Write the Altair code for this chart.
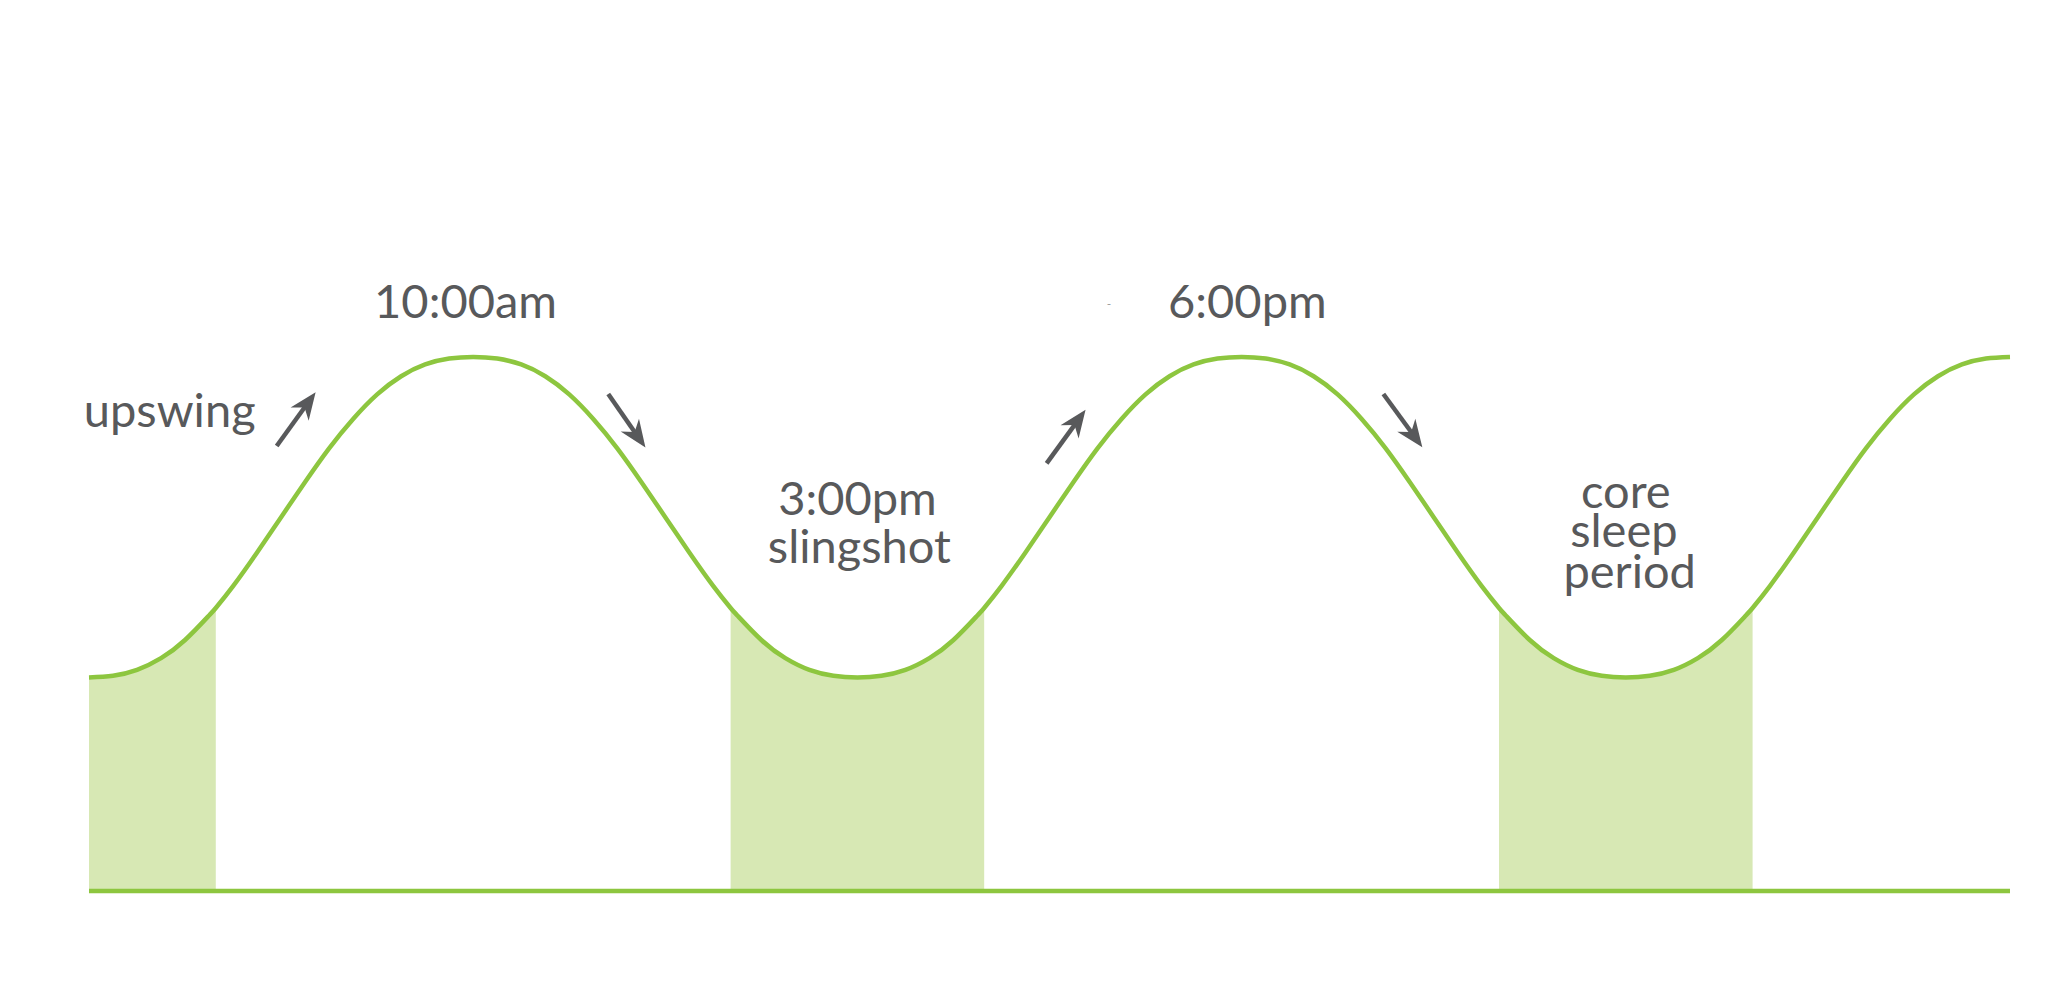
import altair as alt
import pandas as pd

# ---------------- data ----------------
# x: position along the rhythm (one full cycle = 4 units), y: alertness level (baseline 0)
curve_x = [0, 0.125, 0.25, 0.375, 0.5, 0.625, 0.75, 0.875, 1.0, 1.125, 1.25, 1.375, 1.5, 1.625, 1.75, 1.875,
           2.0, 2.125, 2.25, 2.375, 2.5, 2.625, 2.75, 2.875, 3.0, 3.125, 3.25, 3.375, 3.5, 3.625, 3.75, 3.875,
           4.0, 4.125, 4.25, 4.375, 4.5, 4.625, 4.75, 4.875, 5.0, 5.125, 5.25, 5.375, 5.5, 5.625, 5.75, 5.875,
           6.0, 6.125, 6.25, 6.375, 6.5, 6.625, 6.75, 6.875, 7.0, 7.125, 7.25, 7.375, 7.5, 7.625, 7.75, 7.875,
           8.0, 8.125, 8.25, 8.375, 8.5, 8.625, 8.75, 8.875, 9.0, 9.125, 9.25, 9.375, 9.5, 9.625, 9.75, 9.875,
           10.0]
curve_y = [40.0, 40.3, 41.4, 43.6, 47.0, 51.6, 57.1, 63.4, 70.0, 76.6, 82.9, 88.4, 93.0, 96.4, 98.6, 99.7,
           100.0, 99.7, 98.6, 96.4, 93.0, 88.4, 82.9, 76.6, 70.0, 63.4, 57.1, 51.6, 47.0, 43.6, 41.4, 40.3,
           40.0, 40.3, 41.4, 43.6, 47.0, 51.6, 57.1, 63.4, 70.0, 76.6, 82.9, 88.4, 93.0, 96.4, 98.6, 99.7,
           100.0, 99.7, 98.6, 96.4, 93.0, 88.4, 82.9, 76.6, 70.0, 63.4, 57.1, 51.6, 47.0, 43.6, 41.4, 40.3,
           40.0, 40.3, 41.4, 43.6, 47.0, 51.6, 57.1, 63.4, 70.0, 76.6, 82.9, 88.4, 93.0, 96.4, 98.6, 99.7,
           100.0]

# shaded (low) periods and the curve level at their edges
band_start = [0, 3.34, 7.34]
band_end = [0.66, 4.66, 8.66]
edge_x = [0.66, 3.34, 4.66, 7.34, 8.66]
edge_y = [53.0, 53.0, 53.0, 53.0, 53.0]

# text labels
label_text = ["10:00am", "6:00pm", "upswing", "3:00pm", "slingshot", "core", "sleep", "period"]
label_x = [1.96, 6.03, 0.42, 4.0, 4.01, 8.0, 7.99, 8.02]
label_y = [107.3, 107.3, 86.9, 70.4, 61.4, 71.7, 64.4, 56.7]

# tiny stray mark near 6:00pm
dash_x = [5.31]
dash_y = [109.9]

# arrows: tail -> head
arrow_x = [0.977, 2.703, 4.985, 6.738]
arrow_y = [83.33, 93.07, 80.09, 93.07]
head_x = [1.137, 2.855, 5.145, 6.898]
head_y = [91.3, 85.2, 88.0, 85.2]
head_angle = [36, 145, 36, 144]

# ---------------- tables ----------------
GREEN = "#8dc63f"
SHADE = "#d7e8b4"
GREY = "#58595b"

curve = pd.DataFrame({"x": curve_x + edge_x, "y": curve_y + edge_y}).sort_values("x").reset_index(drop=True)

area_rows = []
for i, (s, e) in enumerate(zip(band_start, band_end)):
    part = curve[(curve["x"] >= s - 1e-9) & (curve["x"] <= e + 1e-9)].copy()
    part["band"] = i
    area_rows.append(part)
area_df = pd.concat(area_rows, ignore_index=True)

base_df = pd.DataFrame({"x": [curve_x[0]], "x2": [curve_x[-1]], "y": [0]})
labels_df = pd.DataFrame({"t": label_text, "x": label_x, "y": label_y})
dash_df = pd.DataFrame({"t": ["-"], "x": dash_x, "y": dash_y})
arrows_df = pd.DataFrame({"x": arrow_x, "y": arrow_y, "hx": head_x, "hy": head_y, "a": head_angle})

xs = alt.Scale(domain=[0, 10], nice=False, zero=False)
ys = alt.Scale(domain=[0, 150], nice=False, zero=False)

area = alt.Chart(area_df).mark_area(color=SHADE, interpolate="natural", opacity=1).encode(
    x=alt.X("x:Q", scale=xs, axis=None),
    y=alt.Y("y:Q", scale=ys, axis=None),
    y2=alt.datum(0),
    detail="band:N",
)

line = alt.Chart(curve).mark_line(color=GREEN, strokeWidth=4.5, interpolate="natural").encode(
    x=alt.X("x:Q", scale=xs, axis=None),
    y=alt.Y("y:Q", scale=ys, axis=None),
)

base = alt.Chart(base_df).mark_rule(color=GREEN, strokeWidth=4.5).encode(
    x=alt.X("x:Q", scale=xs, axis=None),
    x2="x2:Q",
    y=alt.Y("y:Q", scale=ys, axis=None),
)

shafts = alt.Chart(arrows_df).mark_rule(color=GREY, strokeWidth=4.5).encode(
    x=alt.X("x:Q", scale=xs, axis=None),
    y=alt.Y("y:Q", scale=ys, axis=None),
    x2="hx:Q",
    y2="hy:Q",
)

heads = alt.Chart(arrows_df).mark_point(
    shape="M0,-1 L0.8,0.95 L0,0.35 L-0.8,0.95 Z",
    filled=True, color=GREY, opacity=1, size=780, strokeWidth=0,
).encode(
    x=alt.X("hx:Q", scale=xs, axis=None),
    y=alt.Y("hy:Q", scale=ys, axis=None),
    angle=alt.Angle("a:Q", scale=None),
)

labels = alt.Chart(labels_df).mark_text(
    font="Lato", fontSize=47, color=GREY, align="center", baseline="alphabetic",
).encode(
    x=alt.X("x:Q", scale=xs, axis=None),
    y=alt.Y("y:Q", scale=ys, axis=None),
    text="t:N",
)

dash = alt.Chart(dash_df).mark_text(
    font="Lato", fontSize=12, color="#9a9a9a", align="center", baseline="middle",
).encode(
    x=alt.X("x:Q", scale=xs, axis=None),
    y=alt.Y("y:Q", scale=ys, axis=None),
    text="t:N",
)

chart = alt.layer(area, line, base, shafts, heads, labels, dash).properties(
    width=1921,
    height=801,
    padding={"left": 81, "top": 82, "right": 20, "bottom": 20},
    autosize=alt.AutoSizeParams(type="none"),
    background="white",
).configure_view(stroke=None)

chart.save("out.html", embed_options={"renderer": "svg", "actions": False})
